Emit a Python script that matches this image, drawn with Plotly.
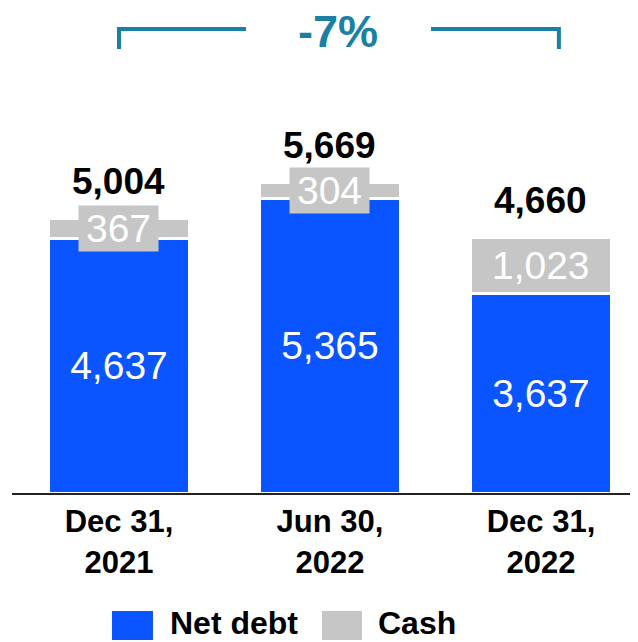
import plotly.graph_objects as go

categories = ["Dec 31,<br>2021", "Jun 30,<br>2022", "Dec 31,<br>2022"]
net_debt = [4637, 5365, 3637]
cash = [367, 304, 1023]
totals = [5004, 5669, 4660]
change_label = "-7%"

BLUE = "#0A55FF"
GREY = "#C6C6C6"
TEAL = "#1A80A4"
FONT = "Liberation Sans, Arial, sans-serif"

x = list(range(len(categories)))

fig = go.Figure()
fig.add_trace(go.Bar(
    x=x, y=net_debt, name="Net debt", marker=dict(color=BLUE, line=dict(color="white", width=3)),
    width=0.665,
    text=[f"{v:,}" for v in net_debt], textposition="inside", insidetextanchor="middle",
    textfont=dict(color="white", size=39, family=FONT), constraintext="none",
    showlegend=False, hoverinfo="skip",
))
fig.add_trace(go.Bar(
    x=x, y=cash, name="Cash", marker=dict(color=GREY, line=dict(color="white", width=3)),
    width=0.665, showlegend=False, hoverinfo="skip",
))

annotations = []
seg_size = 39
for i in x:
    txt = f"{cash[i]:,}"
    n_dig = sum(c.isdigit() for c in txt)
    n_com = txt.count(",")
    w = 0.556 * seg_size * n_dig + 0.278 * seg_size * n_com + 14
    annotations.append(dict(
        x=i, y=net_debt[i] + cash[i] / 2, xref="x", yref="y", text=txt, showarrow=False,
        font=dict(color="white", size=seg_size, family=FONT), bgcolor=GREY,
        width=w, height=45, borderpad=0, xanchor="center", yanchor="middle",
    ))
    annotations.append(dict(
        x=i, y=totals[i], xref="x", yref="y", text=f"{totals[i]:,}", showarrow=False,
        font=dict(color="black", size=37, family=FONT, weight="bold"),
        xanchor="center", yanchor="bottom", yshift=14,
    ))

# change annotation
annotations.append(dict(
    x=0.521, y=1.0647, xref="paper", yref="paper", text=change_label, showarrow=False,
    font=dict(color=TEAL, size=45, family=FONT, weight="bold"), xanchor="center", yanchor="middle",
    borderpad=0,
))

# legend
leg_font = dict(color="black", size=32, family=FONT, weight="bold")
annotations.append(dict(x=0.2492, y=-0.3002, xref="paper", yref="paper", text="Net debt",
                        showarrow=False, font=leg_font, xanchor="left", yanchor="middle"))
annotations.append(dict(x=0.5815, y=-0.3002, xref="paper", yref="paper", text="Cash",
                        showarrow=False, font=leg_font, xanchor="left", yanchor="middle"))

shapes = [
    dict(type="rect", xref="paper", yref="paper", x0=0.1597, x1=0.2252, y0=-0.3395, y1=-0.2725,
         fillcolor=BLUE, line=dict(width=0)),
    dict(type="rect", xref="paper", yref="paper", x0=0.4952, x1=0.5591, y0=-0.3395, y1=-0.2725,
         fillcolor=GREY, line=dict(width=0)),
    dict(type="path", xref="x", yref="paper",
         path="M 0,1.0254 L 0,1.0716 L 0.602,1.0716", line=dict(color=TEAL, width=4)),
    dict(type="path", xref="x", yref="paper",
         path="M 1.479,1.0716 L 2.085,1.0716 L 2.085,1.0254", line=dict(color=TEAL, width=4)),
]

fig.update_layout(
    barmode="stack",
    width=638, height=642,
    margin=dict(l=4, r=8, t=52, b=157),
    paper_bgcolor="white", plot_bgcolor="white",
    annotations=annotations, shapes=shapes,
    xaxis=dict(
        range=[-0.507, 2.460], tickmode="array", tickvals=x, ticktext=categories,
        showline=True, linecolor="#222222", linewidth=2, showgrid=False, zeroline=False,
        ticks="", tickfont=dict(size=31, color="black", family=FONT, weight="bold"),
        fixedrange=True,
    ),
    yaxis=dict(range=[0, 7893], visible=False, showgrid=False, zeroline=False, fixedrange=True),
    showlegend=False,
)

fig.write_html("out.html")
